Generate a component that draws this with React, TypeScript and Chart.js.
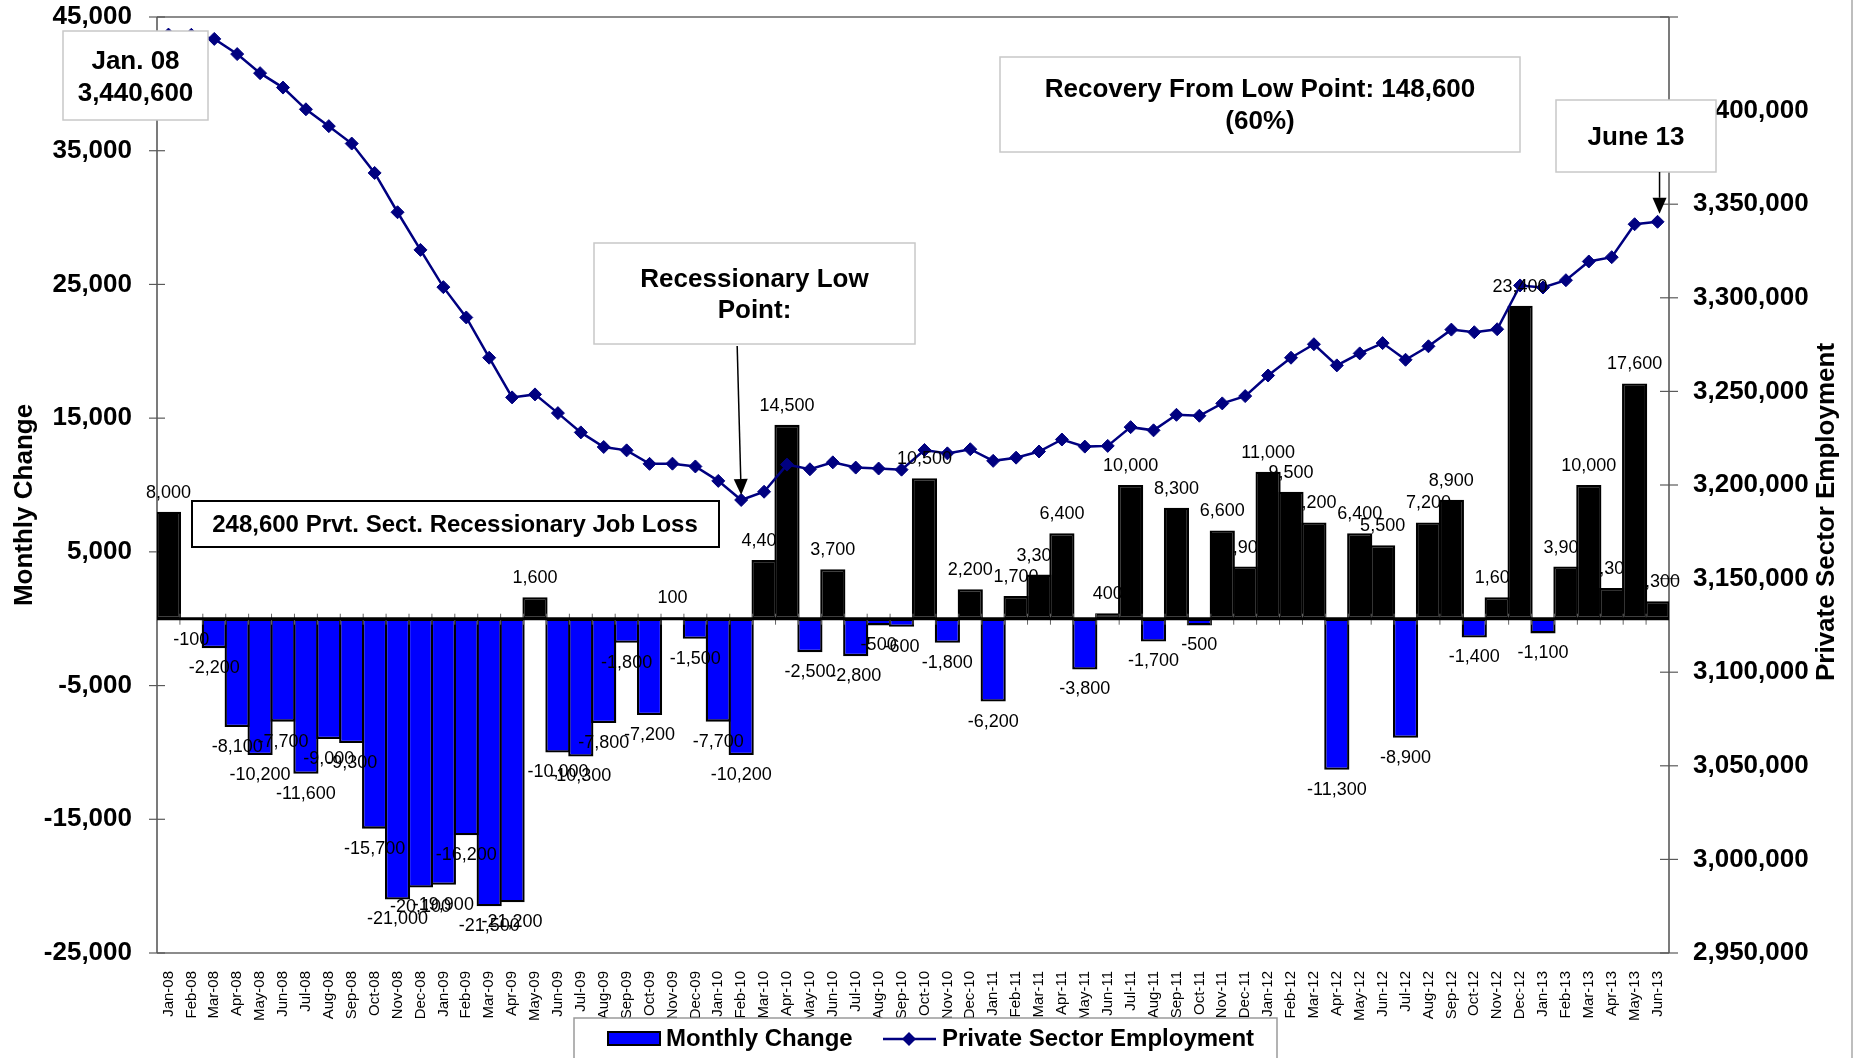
import React, { useEffect, useRef } from 'react';
import { Chart, registerables } from 'chart.js';

Chart.register(...registerables);

const W = 1858;
const H = 1058;
const FONT = '"Liberation Sans", Arial, Helvetica, sans-serif';

const months = [
  'Jan-08', 'Feb-08', 'Mar-08', 'Apr-08', 'May-08', 'Jun-08', 'Jul-08', 'Aug-08', 'Sep-08', 'Oct-08', 'Nov-08', 'Dec-08',
  'Jan-09', 'Feb-09', 'Mar-09', 'Apr-09', 'May-09', 'Jun-09', 'Jul-09', 'Aug-09', 'Sep-09', 'Oct-09', 'Nov-09', 'Dec-09',
  'Jan-10', 'Feb-10', 'Mar-10', 'Apr-10', 'May-10', 'Jun-10', 'Jul-10', 'Aug-10', 'Sep-10', 'Oct-10', 'Nov-10', 'Dec-10',
  'Jan-11', 'Feb-11', 'Mar-11', 'Apr-11', 'May-11', 'Jun-11', 'Jul-11', 'Aug-11', 'Sep-11', 'Oct-11', 'Nov-11', 'Dec-11',
  'Jan-12', 'Feb-12', 'Mar-12', 'Apr-12', 'May-12', 'Jun-12', 'Jul-12', 'Aug-12', 'Sep-12', 'Oct-12', 'Nov-12', 'Dec-12',
  'Jan-13', 'Feb-13', 'Mar-13', 'Apr-13', 'May-13', 'Jun-13',
];

const monthlyChange = [
  8000, -100, -2200, -8100, -10200, -7700, -11600, -9000, -9300, -15700, -21000, -20100,
  -19900, -16200, -21500, -21200, 1600, -10000, -10300, -7800, -1800, -7200, 100, -1500,
  -7700, -10200, 4400, 14500, -2500, 3700, -2800, -500, -600, 10500, -1800, 2200,
  -6200, 1700, 3300, 6400, -3800, 400, 10000, -1700, 8300, -500, 6600, 3900,
  11000, 9500, 7200, -11300, 6400, 5500, -8900, 7200, 8900, -1400, 1600, 23400,
  -1100, 3900, 10000, 2300, 17600, 1300,
];

const privateEmployment = [
  3440600, 3440500, 3438300, 3430200, 3420000, 3412300, 3400700, 3391700, 3382400, 3366700, 3345700, 3325600,
  3305700, 3289500, 3268000, 3246800, 3248400, 3238400, 3228100, 3220300, 3218500, 3211300, 3211400, 3209900,
  3202200, 3192000, 3196400, 3210900, 3208400, 3212100, 3209300, 3208800, 3208200, 3218700, 3216900, 3219100,
  3212900, 3214600, 3217900, 3224300, 3220500, 3220900, 3230900, 3229200, 3237500, 3237000, 3243600, 3247500,
  3258500, 3268000, 3275200, 3263900, 3270300, 3275800, 3266900, 3274100, 3283000, 3281600, 3283200, 3306600,
  3305500, 3309400, 3319400, 3321700, 3339300, 3340600,
];

const changeTicks = [-25000, -15000, -5000, 5000, 15000, 25000, 35000, 45000];
const employmentTicks = [2950000, 3000000, 3050000, 3100000, 3150000, 3200000, 3250000, 3300000, 3350000, 3400000];
const changeRange = [-25000, 45000];
const employmentRange = [2950000, 3450000];

const startNote = ['Jan. 08', '3,440,600'];
const lowNote = ['Recessionary Low', 'Point:'];
const recoveryNote = ['Recovery From Low Point: 148,600', '(60%)'];
const endNote = ['June 13'];
const lossNote = '248,600 Prvt. Sect. Recessionary Job Loss';
const lowIndex = 25;
const endIndex = 65;

const fmt = (v: number) => Number(v).toLocaleString('en-US');

function seg(ctx: any, x1: number, y1: number, x2: number, y2: number, color: string, lw: number) {
  ctx.beginPath();
  ctx.strokeStyle = color;
  ctx.lineWidth = lw;
  ctx.moveTo(x1, y1);
  ctx.lineTo(x2, y2);
  ctx.stroke();
}

function noteBox(ctx: any, x1: number, y1: number, x2: number, y2: number, stroke: string, lw: number) {
  ctx.fillStyle = '#ffffff';
  ctx.fillRect(x1, y1, x2 - x1, y2 - y1);
  ctx.strokeStyle = stroke;
  ctx.lineWidth = lw;
  ctx.strokeRect(x1, y1, x2 - x1, y2 - y1);
}

function arrow(ctx: any, x1: number, y1: number, x2: number, y2: number) {
  const ang = Math.atan2(y2 - y1, x2 - x1);
  const hl = 16;
  const hw = 7;
  const bx = x2 - Math.cos(ang) * hl;
  const by = y2 - Math.sin(ang) * hl;
  seg(ctx, x1, y1, bx, by, '#000', 1.5);
  ctx.beginPath();
  ctx.fillStyle = '#000';
  ctx.moveTo(x2, y2);
  ctx.lineTo(bx - Math.sin(ang) * hw, by + Math.cos(ang) * hw);
  ctx.lineTo(bx + Math.sin(ang) * hw, by - Math.cos(ang) * hw);
  ctx.closePath();
  ctx.fill();
}

function textLines(ctx: any, lines: string[], cx: number, ys: number[]) {
  lines.forEach((t, i) => ctx.fillText(t, cx, ys[i]));
}

const overlay = {
  id: 'overlay',
  beforeDatasetsDraw(chart: any) {
    const { ctx, chartArea: a, scales } = chart;
    ctx.save();
    seg(ctx, a.left, a.top, a.right, a.top, '#8c8c8c', 2);
    seg(ctx, a.left, a.bottom, a.right, a.bottom, '#8c8c8c', 2);
    seg(ctx, a.left, a.top, a.left, a.bottom, '#5a5a5a', 1.6);
    seg(ctx, a.right, a.top, a.right, a.bottom, '#5a5a5a', 1.6);
    changeTicks.forEach((v) => {
      const y = scales.y.getPixelForValue(v);
      seg(ctx, a.left - 8, y, a.left + 8, y, '#5a5a5a', 1.2);
    });
    employmentTicks.concat([employmentRange[1]]).forEach((v) => {
      const y = scales.y1.getPixelForValue(v);
      seg(ctx, a.right - 9, y, a.right + 9, y, '#5a5a5a', 1.2);
    });
    ctx.restore();
  },
  afterDatasetsDraw(chart: any) {
    const { ctx, chartArea: a, scales } = chart;
    const xs = scales.x;
    const ys = scales.y;
    const y1s = scales.y1;
    ctx.save();

    // category axis at zero
    const y0 = ys.getPixelForValue(0);
    const catW = (a.right - a.left) / months.length;
    for (let k = 1; k < months.length; k++) {
      const x = a.left + k * catW;
      seg(ctx, x, y0 - 5, x, y0 + 6, '#666', 1);
    }
    seg(ctx, a.left, y0, a.right, y0, '#000', 3);

    // data labels
    ctx.font = `18px ${FONT}`;
    ctx.fillStyle = '#000';
    ctx.textAlign = 'center';
    ctx.textBaseline = 'middle';
    monthlyChange.forEach((v, i) => {
      const x = xs.getPixelForValue(i);
      const yv = ys.getPixelForValue(v);
      ctx.fillText(fmt(v), x, v >= 0 ? yv - 19 : yv + 20);
    });

    // annotation boxes
    ctx.font = `bold 26px ${FONT}`;
    noteBox(ctx, 63, 31, 208, 120, '#c8c8c8', 1.5);
    ctx.fillStyle = '#000';
    textLines(ctx, startNote, 135.5, [62, 94]);

    noteBox(ctx, 594, 243, 915, 344, '#c8c8c8', 1.5);
    ctx.fillStyle = '#000';
    textLines(ctx, lowNote, 754.5, [280, 311]);

    noteBox(ctx, 1000, 57, 1520, 152, '#c8c8c8', 1.5);
    ctx.fillStyle = '#000';
    textLines(ctx, recoveryNote, 1260, [90, 122]);

    noteBox(ctx, 1556, 100, 1716, 172, '#c8c8c8', 1.5);
    ctx.fillStyle = '#000';
    textLines(ctx, endNote, 1636, [138]);

    ctx.font = `bold 24px ${FONT}`;
    noteBox(ctx, 192, 501, 719, 547, '#000', 2);
    ctx.fillStyle = '#000';
    ctx.fillText(lossNote, 455, 525);

    // arrows to data points
    const lx = xs.getPixelForValue(lowIndex);
    const ly = y1s.getPixelForValue(privateEmployment[lowIndex]);
    arrow(ctx, lx - 4, 346, lx, ly - 5);
    const ex = xs.getPixelForValue(endIndex);
    const ey = y1s.getPixelForValue(privateEmployment[endIndex]);
    arrow(ctx, ex + 2, 172, ex + 2, ey - 8);

    // axis titles
    ctx.font = `bold 26px ${FONT}`;
    ctx.fillStyle = '#000';
    ctx.save();
    ctx.translate(25, 505);
    ctx.rotate(-Math.PI / 2);
    ctx.fillText('Monthly Change', 0, 0);
    ctx.restore();
    ctx.save();
    ctx.translate(1827, 512);
    ctx.rotate(-Math.PI / 2);
    ctx.fillText('Private Sector Employment', 0, 0);
    ctx.restore();

    // legend
    ctx.fillStyle = '#fff';
    ctx.fillRect(574, 1018, 703, 50);
    ctx.strokeStyle = '#9a9a9a';
    ctx.lineWidth = 1.5;
    ctx.strokeRect(574, 1018, 703, 50);
    ctx.fillStyle = '#0000ff';
    ctx.fillRect(608, 1032, 52, 13);
    ctx.strokeStyle = '#000';
    ctx.lineWidth = 2;
    ctx.strokeRect(608, 1032, 52, 13);
    ctx.font = `bold 24px ${FONT}`;
    ctx.fillStyle = '#000';
    ctx.textAlign = 'left';
    ctx.fillText('Monthly Change', 666, 1039);
    seg(ctx, 883, 1039, 936, 1039, '#000080', 2.5);
    ctx.beginPath();
    ctx.fillStyle = '#000080';
    ctx.moveTo(909, 1032);
    ctx.lineTo(916, 1039);
    ctx.lineTo(909, 1046);
    ctx.lineTo(902, 1039);
    ctx.closePath();
    ctx.fill();
    ctx.fillStyle = '#000';
    ctx.fillText('Private Sector Employment', 942, 1039);

    // outer chart border
    seg(ctx, 1852, 0, 1852, H, '#a8a8a8', 1.5);

    ctx.restore();
  },
};

export default function App() {
  const ref = useRef<HTMLCanvasElement | null>(null);

  useEffect(() => {
    const canvas = ref.current;
    if (!canvas) return;
    const chart = new Chart(canvas, {
      type: 'bar',
      data: {
        labels: months,
        datasets: [
          {
            type: 'line',
            label: 'Private Sector Employment',
            data: privateEmployment,
            yAxisID: 'y1',
            borderColor: '#000080',
            backgroundColor: '#000080',
            borderWidth: 2.5,
            pointStyle: 'rectRot',
            pointRadius: 6.5,
            pointBackgroundColor: '#000080',
            pointBorderColor: '#000080',
            pointBorderWidth: 1,
            tension: 0,
            order: 0,
          } as any,
          {
            type: 'bar',
            label: 'Monthly Change',
            data: monthlyChange,
            yAxisID: 'y',
            backgroundColor: monthlyChange.map((v) => (v < 0 ? '#0000ff' : '#000000')),
            borderColor: '#000000',
            borderWidth: 2.3,
            borderSkipped: false,
            barPercentage: 1.1,
            categoryPercentage: 1.0,
            order: 1,
          } as any,
        ],
      },
      options: {
        responsive: false,
        animation: false,
        devicePixelRatio: 1,
        events: [],
        layout: { padding: { top: 17, left: 0, right: 0, bottom: 0 } },
        plugins: {
          legend: { display: false },
          tooltip: { enabled: false },
          title: { display: false },
        },
        scales: {
          x: {
            type: 'category',
            offset: true,
            grid: { display: false },
            border: { display: false },
            ticks: {
              autoSkip: false,
              maxRotation: 90,
              minRotation: 90,
              padding: 10,
              color: '#000',
              font: { family: FONT, size: 15 },
            },
            afterFit: (s: any) => {
              s.height = 105;
              s.paddingLeft = 0;
              s.paddingRight = 0;
            },
          },
          y: {
            type: 'linear',
            position: 'left',
            min: changeRange[0],
            max: changeRange[1],
            grid: { display: false },
            border: { display: false },
            afterBuildTicks: (s: any) => {
              s.ticks = changeTicks.map((v) => ({ value: v }));
            },
            ticks: {
              padding: 17,
              color: '#000',
              font: { family: FONT, size: 26, weight: 'bold' },
              callback: (v: any) => fmt(Number(v)),
            },
            afterFit: (s: any) => {
              s.width = 157;
              s.paddingTop = 0;
              s.paddingBottom = 0;
            },
          },
          y1: {
            type: 'linear',
            position: 'right',
            min: employmentRange[0],
            max: employmentRange[1],
            grid: { display: false },
            border: { display: false },
            afterBuildTicks: (s: any) => {
              s.ticks = employmentTicks.map((v) => ({ value: v }));
            },
            ticks: {
              padding: 16,
              color: '#000',
              font: { family: FONT, size: 26, weight: 'bold' },
              callback: (v: any) => fmt(Number(v)),
            },
            afterFit: (s: any) => {
              s.width = 189;
              s.paddingTop = 0;
              s.paddingBottom = 0;
            },
          },
        },
      } as any,
      plugins: [overlay],
    });
    return () => chart.destroy();
  }, []);

  return (
    <div style={{ position: 'fixed', left: 0, top: 0, width: W, height: H, background: '#fff', overflow: 'hidden' }}>
      <canvas ref={ref} width={W} height={H} style={{ display: 'block', width: `${W}px`, height: `${H}px` }} />
    </div>
  );
}
